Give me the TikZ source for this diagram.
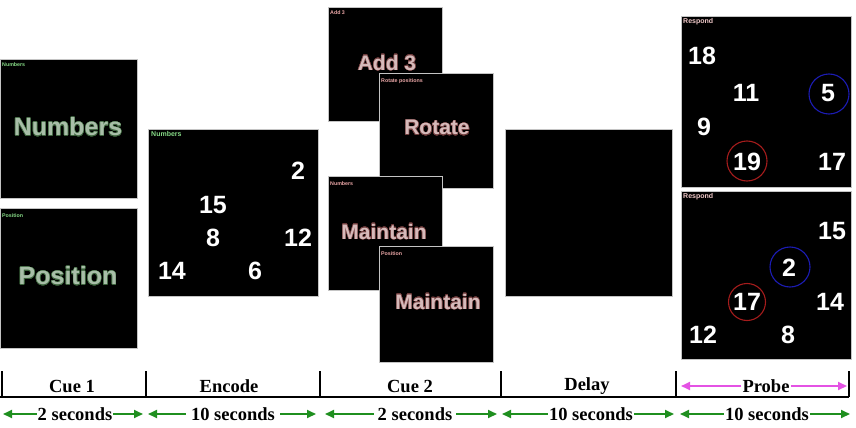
\documentclass[tikz,border=0pt]{standalone}
\usepackage{fontspec}
\setmainfont{Liberation Serif}
\newfontfamily\arialf{Liberation Sans}
\usepackage[copies]{contour}
\contournumber{24}
\contourlength{0.45pt}
\usetikzlibrary{arrows.meta}
\definecolor{panelgray}{HTML}{C4C4C4}
\definecolor{cuegreen}{HTML}{A8BEA8}
\definecolor{glowgreen}{HTML}{3C633C}
\definecolor{lblgreen}{HTML}{86DA86}
\definecolor{cuepink}{HTML}{D6BABA}
\definecolor{glowpink}{HTML}{6E3C3C}
\definecolor{lblpink}{HTML}{EAA6A6}
\definecolor{resppink}{HTML}{F2CACA}
\definecolor{circblue}{HTML}{1C1CB4}
\definecolor{circred}{HTML}{A41C1C}
\definecolor{arrgreen}{HTML}{1F8F1F}
\definecolor{arrmag}{HTML}{E452E4}
\newcommand{\gglow}[1]{\contour{glowgreen}{\textcolor{cuegreen}{#1}}}
\newcommand{\pglow}[1]{\contour{glowpink}{\textcolor{cuepink}{#1}}}
\begin{document}
\begin{tikzpicture}[x=1pt,y=-1pt,
  panel/.style={draw=panelgray, fill=black, line width=1.1pt, anchor=north west, inner sep=0pt},
  smalllbl/.style={anchor=north west, inner sep=0pt, font=\arialf\bfseries\fontsize{5.3}{6}\selectfont},
  bigtxt/.style={inner sep=0pt, font=\arialf\bfseries\fontsize{25}{26}\selectfont},
  cuetxt/.style={inner sep=0pt, font=\arialf\bfseries\fontsize{21}{22}\selectfont},
  num/.style={inner sep=0pt, text=white, font=\arialf\bfseries\fontsize{25}{26}\selectfont},
  ring/.style={draw, circle, line width=1.1pt, minimum size=40pt, inner sep=0pt},
  tline/.style={line width=2pt, black},
  tl/.style={inner sep=1pt, font=\bfseries\fontsize{18.5}{20}\selectfont},
  garrow/.style={arrgreen, line width=2pt, -{Triangle[length=9pt,width=8pt]}},
  marrow/.style={arrmag, line width=2pt, -{Triangle[length=9pt,width=8pt]}}
]
\useasboundingbox (0,0) rectangle (856,428);

% Cue 1
\node[panel, minimum width=137, minimum height=139] (p1) at (0,59) {};
\node[smalllbl, text=lblgreen] (p1l) at (2,62) {Numbers};
\node[bigtxt] (p1t) at (68,127) {\gglow{Numbers}};
\node[panel, minimum width=137, minimum height=140] (p2) at (0,208) {};
\node[smalllbl, text=lblgreen] (p2l) at (2,213) {Position};
\node[bigtxt] (p2t) at (68,276) {\gglow{Position}};

% Encode
\node[panel, minimum width=170, minimum height=167] (p3) at (148,129) {};
\node[smalllbl, text=lblgreen, font=\arialf\bfseries\fontsize{7}{8}\selectfont] (p3l) at (151,131) {Numbers};
\node[num] (e2) at (298,171) {2};
\node[num] (e15) at (213,205) {15};
\node[num] (e8) at (213,238) {8};
\node[num] (e12) at (298,238) {12};
\node[num] (e14) at (172,271) {14};
\node[num] (e6) at (255,271) {6};

% Cue 2
\node[panel, minimum width=114, minimum height=114] (p4) at (328,7) {};
\node[smalllbl, text=lblpink] (p4l) at (330,10) {Add 3};
\node[cuetxt] (p4t) at (387,63) {\pglow{Add 3}};
\node[panel, minimum width=114, minimum height=115] (p5) at (379,73) {};
\node[smalllbl, text=lblpink] (p5l) at (381,78) {Rotate positions};
\node[cuetxt] (p5t) at (437,128) {\pglow{Rotate}};
\node[panel, minimum width=114, minimum height=114] (p6) at (328,176) {};
\node[smalllbl, text=lblpink] (p6l) at (330,181) {Numbers};
\node[cuetxt] (p6t) at (384,232) {\pglow{Maintain}};
\node[panel, minimum width=114, minimum height=116] (p7) at (379,246) {};
\node[smalllbl, text=lblpink] (p7l) at (381,251) {Position};
\node[cuetxt] (p7t) at (438,302) {\pglow{Maintain}};

% Delay
\node[panel, minimum width=167, minimum height=167] (p8) at (505,129) {};

% Probe 1
\node[panel, minimum width=170, minimum height=171] (p9) at (681,16) {};
\node[smalllbl, text=resppink, font=\arialf\bfseries\fontsize{7}{8}\selectfont] (p9l) at (683,18) {Respond};
\node[num] (a18) at (702,56) {18};
\node[num] (a11) at (746,93) {11};
\node[num] (a5) at (828,93) {5};
\node[ring, circblue] (c1) at (829,94) {};
\node[num] (a9) at (704,127) {9};
\node[num] (a19) at (747,162) {19};
\node[ring, circred] (c2) at (747,161) {};
\node[num] (a17) at (832,162) {17};

% Probe 2
\node[panel, minimum width=170, minimum height=168] (p10) at (681,191) {};
\node[smalllbl, text=resppink, font=\arialf\bfseries\fontsize{7}{8}\selectfont] (p10l) at (683,193) {Respond};
\node[num] (b15) at (832,231) {15};
\node[num] (b2) at (789,268) {2};
\node[ring, circblue] (c3) at (790,267) {};
\node[num] (b17) at (747,302) {17};
\node[ring, circred, minimum size=37pt] (c4) at (747,302) {};
\node[num] (b14) at (830,302) {14};
\node[num] (b12) at (703,335) {12};
\node[num] (b8) at (788,335) {8};

% Timeline
\coordinate (t0) at (2,397);
\coordinate (t1) at (146,397);
\coordinate (t2) at (320,397);
\coordinate (t3) at (501,397);
\coordinate (t4) at (676,397);
\coordinate (t5) at (849,397);
\coordinate (k0) at (2,371);
\coordinate (k1) at (146,371);
\coordinate (k2) at (320,371);
\coordinate (k3) at (501,371);
\coordinate (k4) at (676,371);
\coordinate (k5) at (849,371);
\coordinate (lstart) at (0,397);
\draw[tline] (lstart) -- (t5);
\foreach \i in {0,...,5} { \draw[tline] (t\i) -- (k\i); }

\node[tl] (l1) at (72,386) {Cue 1};
\node[tl] (l2) at (229,386) {Encode};
\node[tl] (l3) at (410,386) {Cue 2};
\node[tl] (l4) at (587,386) {Delay};
\node[tl] (l5) at (766,386) {Probe};
\coordinate (m1) at (681,386);
\coordinate (m2) at (847,386);
\draw[marrow] (l5.west) -- (m1);
\draw[marrow] (l5.east) -- (m2);

\node[tl] (s1) at (75,414) {2 seconds};
\node[tl] (s2) at (233,414) {10 seconds};
\node[tl] (s3) at (415,414) {2 seconds};
\node[tl] (s4) at (591,414) {10 seconds};
\node[tl] (s5) at (767,414) {10 seconds};
\coordinate (g1l) at (3,414);   \coordinate (g1r) at (143,414);
\coordinate (g2l) at (148,414); \coordinate (g2r) at (316,414);
\coordinate (g3l) at (325,414); \coordinate (g3r) at (497,414);
\coordinate (g4l) at (502,414); \coordinate (g4r) at (674,414);
\coordinate (g5l) at (680,414); \coordinate (g5r) at (850,414);
\draw[garrow] (s1.west) -- (g1l);
\draw[garrow] (s1.east) -- (g1r);
\draw[garrow, shorten <=4pt] (s2.west) -- (g2l);
\draw[garrow, shorten <=4pt] (s2.east) -- (g2r);
\draw[garrow, shorten <=3pt] (s3.west) -- (g3l);
\draw[garrow, shorten <=3pt] (s3.east) -- (g3r);
\draw[garrow] (s4.west) -- (g4l);
\draw[garrow] (s4.east) -- (g4r);
\draw[garrow] (s5.west) -- (g5l);
\draw[garrow] (s5.east) -- (g5r);
\end{tikzpicture}
\end{document}
